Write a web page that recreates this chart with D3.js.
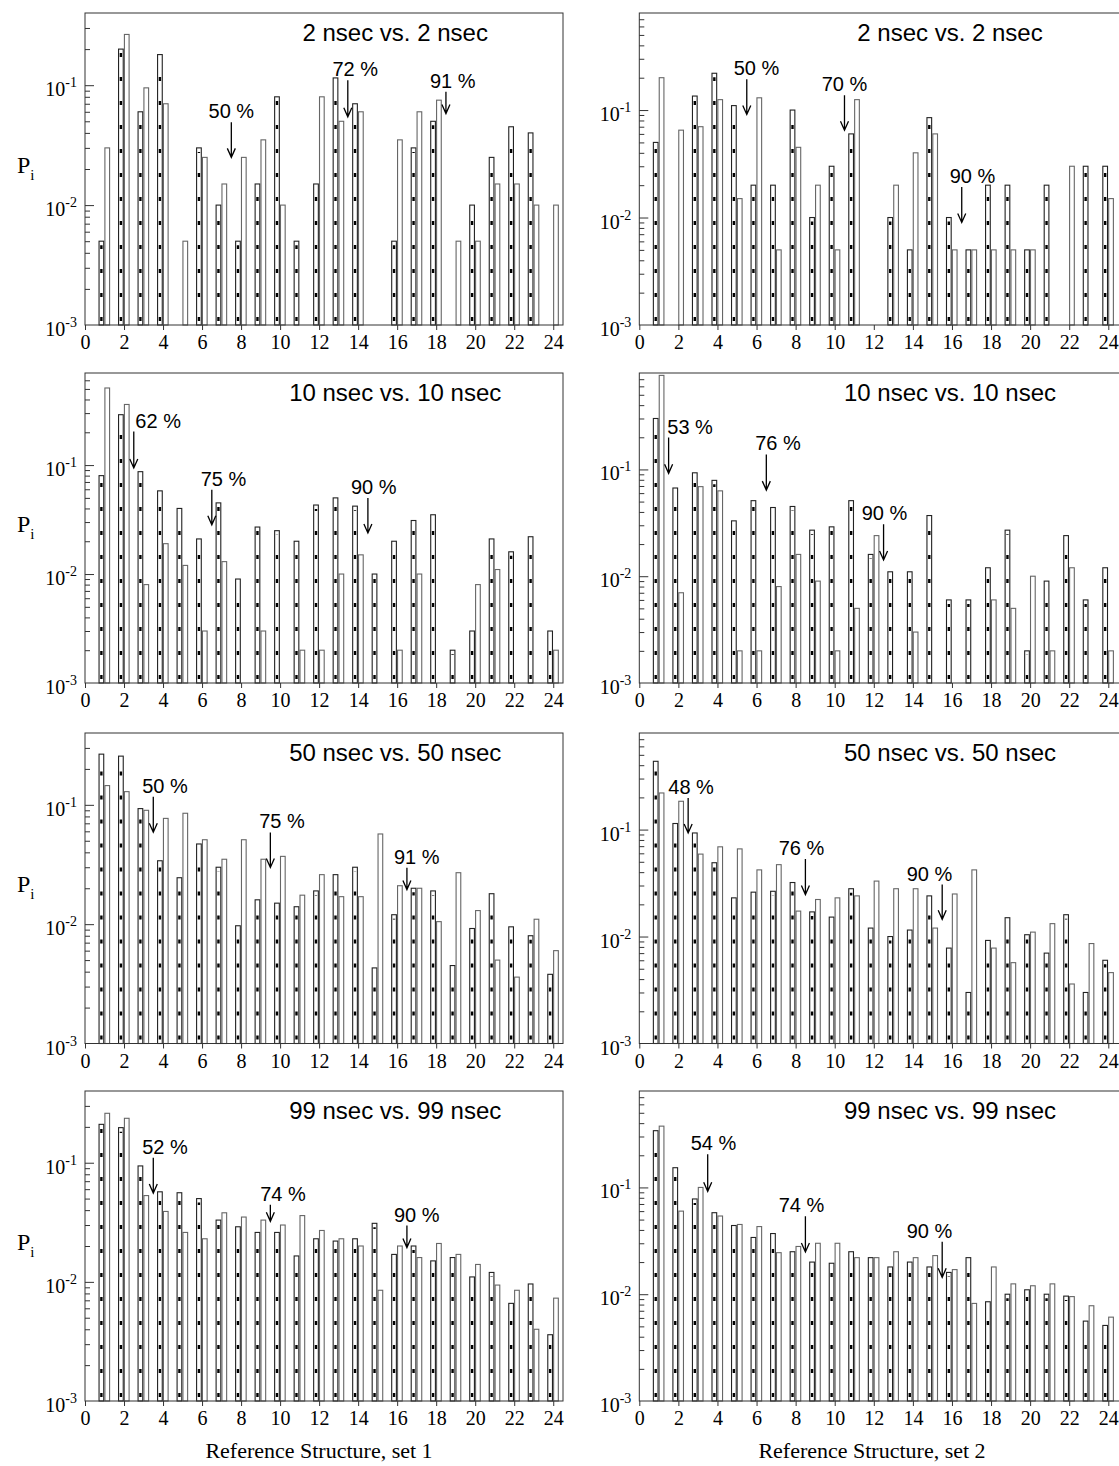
<!DOCTYPE html>
<html>
<head>
<meta charset="utf-8">
<script src="https://cdnjs.cloudflare.com/ajax/libs/d3/7.8.5/d3.min.js"></script>
<style>
body { margin: 0; background: #fff; }
</style>
</head>
<body>
<svg id="chart"></svg>
<script>
var WIDTH = 1119, HEIGHT = 1466;

// reference structures on the x axis, tick labels
var structures = d3.range(1, 25);
var xTicks = d3.range(0, 25, 2);
var decades = [1e-3, 1e-2, 1e-1];
var decadeExp = ["-3", "-2", "-1"];
var titles = ["2 nsec vs. 2 nsec", "10 nsec vs. 10 nsec", "50 nsec vs. 50 nsec", "99 nsec vs. 99 nsec"];
var axisTitles = ["Reference Structure, set 1", "Reference Structure, set 2"];

// P_i per structure, a = hatched bar, b = open bar, 0 = no bar
var set1_2ns_a = [0.005, 0.2, 0.06, 0.18, 0, 0.03, 0.01, 0.005, 0.015, 0.08, 0.005, 0.015, 0.115, 0.07, 0, 0.005, 0.03, 0.05, 0, 0.01, 0.025, 0.045, 0.04, 0];
var set1_2ns_b = [0.03, 0.265, 0.095, 0.07, 0.005, 0.025, 0.015, 0.025, 0.035, 0.01, 0, 0.08, 0.05, 0.06, 0, 0.035, 0.06, 0.075, 0.005, 0.005, 0.015, 0.015, 0.01, 0.01];
var set2_2ns_a = [0.05, 0, 0.135, 0.22, 0.11, 0.02, 0.02, 0.1, 0.01, 0.03, 0.06, 0, 0.01, 0.005, 0.085, 0.01, 0.005, 0.02, 0.02, 0.005, 0.02, 0, 0.03, 0.03];
var set2_2ns_b = [0.2, 0.065, 0.07, 0.125, 0.015, 0.13, 0.005, 0.045, 0.02, 0.005, 0.125, 0, 0.02, 0.04, 0.06, 0.005, 0.005, 0.005, 0.005, 0.005, 0, 0.03, 0, 0.015];

var set1_10ns_a = [0.08, 0.29, 0.087, 0.058, 0.04, 0.021, 0.045, 0.009, 0.027, 0.025, 0.02, 0.043, 0.05, 0.042, 0.01, 0.02, 0.031, 0.035, 0.002, 0.003, 0.021, 0.016, 0.022, 0.003];
var set1_10ns_b = [0.51, 0.36, 0.008, 0.019, 0.012, 0.003, 0.013, 0, 0.003, 0, 0.002, 0.002, 0.01, 0.015, 0, 0.002, 0.01, 0, 0, 0.008, 0.011, 0, 0, 0.002];
var set2_10ns_a = [0.30, 0.067, 0.093, 0.079, 0.033, 0.051, 0.044, 0.045, 0.027, 0.029, 0.051, 0.016, 0.011, 0.011, 0.037, 0.006, 0.006, 0.012, 0.027, 0.002, 0.009, 0.024, 0.006, 0.012];
var set2_10ns_b = [0.76, 0.007, 0.069, 0.063, 0.002, 0.002, 0.008, 0.016, 0.009, 0.002, 0.005, 0.024, 0, 0.003, 0, 0, 0, 0.006, 0.005, 0.01, 0.002, 0.012, 0, 0.002];

var set1_50ns_a = [0.266, 0.256, 0.093, 0.034, 0.0245, 0.047, 0.03, 0.0097, 0.016, 0.015, 0.014, 0.019, 0.026, 0.03, 0.0043, 0.012, 0.02, 0.019, 0.0045, 0.0092, 0.018, 0.0095, 0.008, 0.0038];
var set1_50ns_b = [0.145, 0.129, 0.09, 0.077, 0.085, 0.051, 0.035, 0.051, 0.035, 0.037, 0.0175, 0.026, 0.017, 0.017, 0.057, 0.021, 0.02, 0.0105, 0.027, 0.013, 0.005, 0.0036, 0.011, 0.006];
var set2_50ns_a = [0.435, 0.114, 0.093, 0.049, 0.023, 0.026, 0.0265, 0.032, 0.017, 0.0152, 0.028, 0.012, 0.01, 0.0115, 0.024, 0.0078, 0.003, 0.0092, 0.015, 0.0104, 0.007, 0.016, 0.003, 0.006];
var set2_50ns_b = [0.22, 0.184, 0.059, 0.069, 0.066, 0.042, 0.047, 0.0173, 0.0222, 0.023, 0.024, 0.033, 0.028, 0.028, 0.012, 0.025, 0.042, 0.0078, 0.0057, 0.011, 0.0132, 0.0036, 0.0086, 0.0046];

var set1_99ns_a = [0.21, 0.197, 0.094, 0.057, 0.056, 0.05, 0.033, 0.029, 0.026, 0.026, 0.0165, 0.023, 0.022, 0.023, 0.031, 0.017, 0.02, 0.015, 0.016, 0.011, 0.012, 0.0066, 0.0096, 0.0036];
var set1_99ns_b = [0.26, 0.236, 0.053, 0.039, 0.026, 0.023, 0.038, 0.035, 0.033, 0.03, 0.036, 0.027, 0.023, 0.02, 0.0085, 0.02, 0.016, 0.021, 0.017, 0.014, 0.0094, 0.0085, 0.004, 0.0073];
var set2_99ns_a = [0.34, 0.153, 0.078, 0.058, 0.044, 0.034, 0.037, 0.025, 0.02, 0.0195, 0.025, 0.022, 0.018, 0.02, 0.018, 0.016, 0.022, 0.0085, 0.01, 0.011, 0.01, 0.0096, 0.0056, 0.0051];
var set2_99ns_b = [0.375, 0.06, 0.1, 0.054, 0.045, 0.043, 0.0245, 0.028, 0.03, 0.03, 0.022, 0.022, 0.025, 0.022, 0.023, 0.017, 0.0082, 0.018, 0.0125, 0.012, 0.0125, 0.0095, 0.0078, 0.0061];

// cumulative-percent arrows: x of arrow, x of label, arrow from / to (P_i units)
var notes1_2ns = [{t: "50 %", x: 7.5, lx: 7.5, from: 0.049, to: 0.025}, {t: "72 %", x: 13.47, lx: 13.85, from: 0.11, to: 0.0545}, {t: "91 %", x: 18.5, lx: 18.85, from: 0.088, to: 0.058}];
var notes2_2ns = [{t: "50 %", x: 5.5, lx: 6.0, from: 0.193, to: 0.091}, {t: "70 %", x: 10.5, lx: 10.5, from: 0.137, to: 0.065}, {t: "90 %", x: 16.5, lx: 17.05, from: 0.0192, to: 0.009}];
var notes1_10ns = [{t: "62 %", x: 2.5, lx: 3.75, from: 0.203, to: 0.094}, {t: "75 %", x: 6.5, lx: 7.1, from: 0.0593, to: 0.0283}, {t: "90 %", x: 14.5, lx: 14.8, from: 0.0498, to: 0.0238}];
var notes2_10ns = [{t: "53 %", x: 1.5, lx: 2.6, from: 0.199, to: 0.092}, {t: "76 %", x: 6.5, lx: 7.1, from: 0.138, to: 0.064}, {t: "90 %", x: 12.5, lx: 12.55, from: 0.0306, to: 0.0142}];
var notes1_50ns = [{t: "50 %", x: 3.5, lx: 4.1, from: 0.117, to: 0.059}, {t: "75 %", x: 9.5, lx: 10.1, from: 0.0587, to: 0.0299}, {t: "91 %", x: 16.5, lx: 17.0, from: 0.0297, to: 0.0195}];
var notes2_50ns = [{t: "48 %", x: 2.5, lx: 2.65, from: 0.197, to: 0.093}, {t: "76 %", x: 8.5, lx: 8.3, from: 0.053, to: 0.0247}, {t: "90 %", x: 15.5, lx: 14.85, from: 0.0306, to: 0.0145}];
var notes1_99ns = [{t: "52 %", x: 3.5, lx: 4.1, from: 0.11, to: 0.0556}, {t: "74 %", x: 9.5, lx: 10.15, from: 0.0443, to: 0.0322}, {t: "90 %", x: 16.5, lx: 17.0, from: 0.0297, to: 0.0194}];
var notes2_99ns = [{t: "54 %", x: 3.5, lx: 3.8, from: 0.204, to: 0.092}, {t: "74 %", x: 8.5, lx: 8.3, from: 0.0538, to: 0.0249}, {t: "90 %", x: 15.5, lx: 14.85, from: 0.031, to: 0.0144}];

// layout
var columns = [
  {left: 85, right: 563, xmax: 24.5, titleX: 319},
  {left: 639.3, right: 1121, xmax: 24.65, titleX: 872}
];
var rows = [
  {top: 13, bottom: 325},
  {top: 373, bottom: 683},
  {top: 733, bottom: 1043.5},
  {top: 1091, bottom: 1401}
];
var SANS = "Liberation Sans, Arial, sans-serif";
var SERIF = "Liberation Serif, Times New Roman, serif";

var panels = [
  {col: 0, row: 0, ymax: 0.4, a: set1_2ns_a, b: set1_2ns_b, notes: notes1_2ns},
  {col: 1, row: 0, ymax: 0.8, a: set2_2ns_a, b: set2_2ns_b, notes: notes2_2ns},
  {col: 0, row: 1, ymax: 0.7, a: set1_10ns_a, b: set1_10ns_b, notes: notes1_10ns},
  {col: 1, row: 1, ymax: 0.8, a: set2_10ns_a, b: set2_10ns_b, notes: notes2_10ns},
  {col: 0, row: 2, ymax: 0.4, a: set1_50ns_a, b: set1_50ns_b, notes: notes1_50ns},
  {col: 1, row: 2, ymax: 0.8, a: set2_50ns_a, b: set2_50ns_b, notes: notes2_50ns},
  {col: 0, row: 3, ymax: 0.4, a: set1_99ns_a, b: set1_99ns_b, notes: notes1_99ns},
  {col: 1, row: 3, ymax: 0.8, a: set2_99ns_a, b: set2_99ns_b, notes: notes2_99ns}
];

var svg = d3.select("#chart")
  .attr("width", WIDTH)
  .attr("height", HEIGHT)
;

function pairs(values) {
  return structures.map(function (s, i) { return {s: s, v: values[i]}; })
    .filter(function (d) { return d.v > 0; });
}

function drawPanel(p) {
  var c = columns[p.col], r = rows[p.row];
  var x = d3.scaleLinear().domain([0, c.xmax]).range([c.left, c.right]);
  var y = d3.scaleLog().domain([1e-3, p.ymax]).range([r.bottom, r.top]);
  var bw = x(0.24) - x(0);
  var g = svg.append("g");

  // hatched bars, left of the tick
  var ha = pairs(p.a);
  g.selectAll("rect.ha").data(ha).enter().append("rect")
    .attr("x", function (d) { return x(d.s - 0.28); })
    .attr("width", bw)
    .attr("y", function (d) { return y(d.v); })
    .attr("height", function (d) { return r.bottom - y(d.v); })
    .attr("fill", "#fff").attr("stroke", "#222").attr("stroke-width", 1.1);
  g.selectAll("line.ha").data(ha).enter().append("line")
    .attr("x1", function (d) { return x(d.s - 0.16); })
    .attr("x2", function (d) { return x(d.s - 0.16); })
    .attr("y1", r.bottom - 4)
    .attr("y2", function (d) { return Math.min(r.bottom, y(d.v) + 4); })
    .attr("stroke", "#000").attr("stroke-width", 2.4).attr("stroke-dasharray", "4,20");

  // open bars, right of the tick
  g.selectAll("rect.hb").data(pairs(p.b)).enter().append("rect")
    .attr("x", function (d) { return x(d.s + 0.02); })
    .attr("width", bw)
    .attr("y", function (d) { return y(d.v); })
    .attr("height", function (d) { return r.bottom - y(d.v); })
    .attr("fill", "#fff").attr("stroke", "#666").attr("stroke-width", 1.1);

  // frame
  g.append("rect")
    .attr("x", c.left).attr("y", r.top)
    .attr("width", c.right - c.left).attr("height", r.bottom - r.top)
    .attr("fill", "none").attr("stroke", "#333").attr("stroke-width", 1);

  // y ticks (inside)
  var minor = [];
  decades.forEach(function (dv) {
    d3.range(2, 10).forEach(function (m) { if (m * dv < p.ymax) minor.push(m * dv); });
  });
  var ya = g.append("g").attr("transform", "translate(" + c.left + ",0)")
    .call(d3.axisLeft(y).tickValues(decades.slice(1)).tickSize(-9).tickFormat(""));
  var ym = g.append("g").attr("transform", "translate(" + c.left + ",0)")
    .call(d3.axisLeft(y).tickValues(minor).tickSize(-5).tickFormat(""));
  ya.select(".domain").remove();
  ym.select(".domain").remove();
  g.selectAll(".tick line").attr("stroke", "#333");

  decades.forEach(function (dv, i) {
    var t = g.append("text")
      .attr("x", c.left - 8).attr("y", y(dv) + 11)
      .attr("text-anchor", "end")
      .style("font-family", SERIF).style("font-size", "20px")
      .text("10");
    t.append("tspan").attr("dy", -9).style("font-size", "14px").text(decadeExp[i]);
  });

  // x axis
  var xa = g.append("g").attr("transform", "translate(0," + r.bottom + ")")
    .call(d3.axisBottom(x).tickValues(xTicks).tickSize(5).tickPadding(5));
  xa.select(".domain").remove();
  xa.selectAll("line").attr("stroke", "#333");
  xa.selectAll("text").style("font-family", SERIF).style("font-size", "20px").attr("fill", "#000");

  // title
  g.append("text")
    .attr("x", x(15.9)).attr("y", r.top + 28)
    .attr("text-anchor", "middle")
    .style("font-family", SANS).style("font-size", "24px")
    .text(titles[p.row]);

  // arrows
  var n = g.selectAll("g.note").data(p.notes).enter().append("g");
  n.append("path")
    .attr("d", function (d) {
      var ax = x(d.x), y0 = y(d.from), y1 = y(d.to);
      return "M" + ax + "," + y0 + "V" + y1 +
        "M" + (ax - 4) + "," + (y1 - 9) + "L" + ax + "," + y1 + "L" + (ax + 4) + "," + (y1 - 9);
    })
    .attr("fill", "none").attr("stroke", "#000").attr("stroke-width", 1.3);
  n.append("text")
    .attr("x", function (d) { return x(d.lx); })
    .attr("y", function (d) { return y(d.from) - 4; })
    .attr("text-anchor", "middle")
    .style("font-family", SANS).style("font-size", "20px")
    .text(function (d) { return d.t; });

  if (p.col === 0) {
    var pl = g.append("text")
      .attr("x", 17).attr("y", (r.top + r.bottom) / 2 + 4)
      .style("font-family", SERIF).style("font-size", "24px")
      .text("P");
    pl.append("tspan").attr("dy", 7).style("font-size", "15px").text("i");
  }
}

panels.forEach(drawPanel);

columns.forEach(function (c, i) {
  svg.append("text")
    .attr("x", c.titleX).attr("y", 1458)
    .attr("text-anchor", "middle")
    .style("font-family", SERIF).style("font-size", "22px")
    .text(axisTitles[i]);
});
</script>
</body>
</html>
